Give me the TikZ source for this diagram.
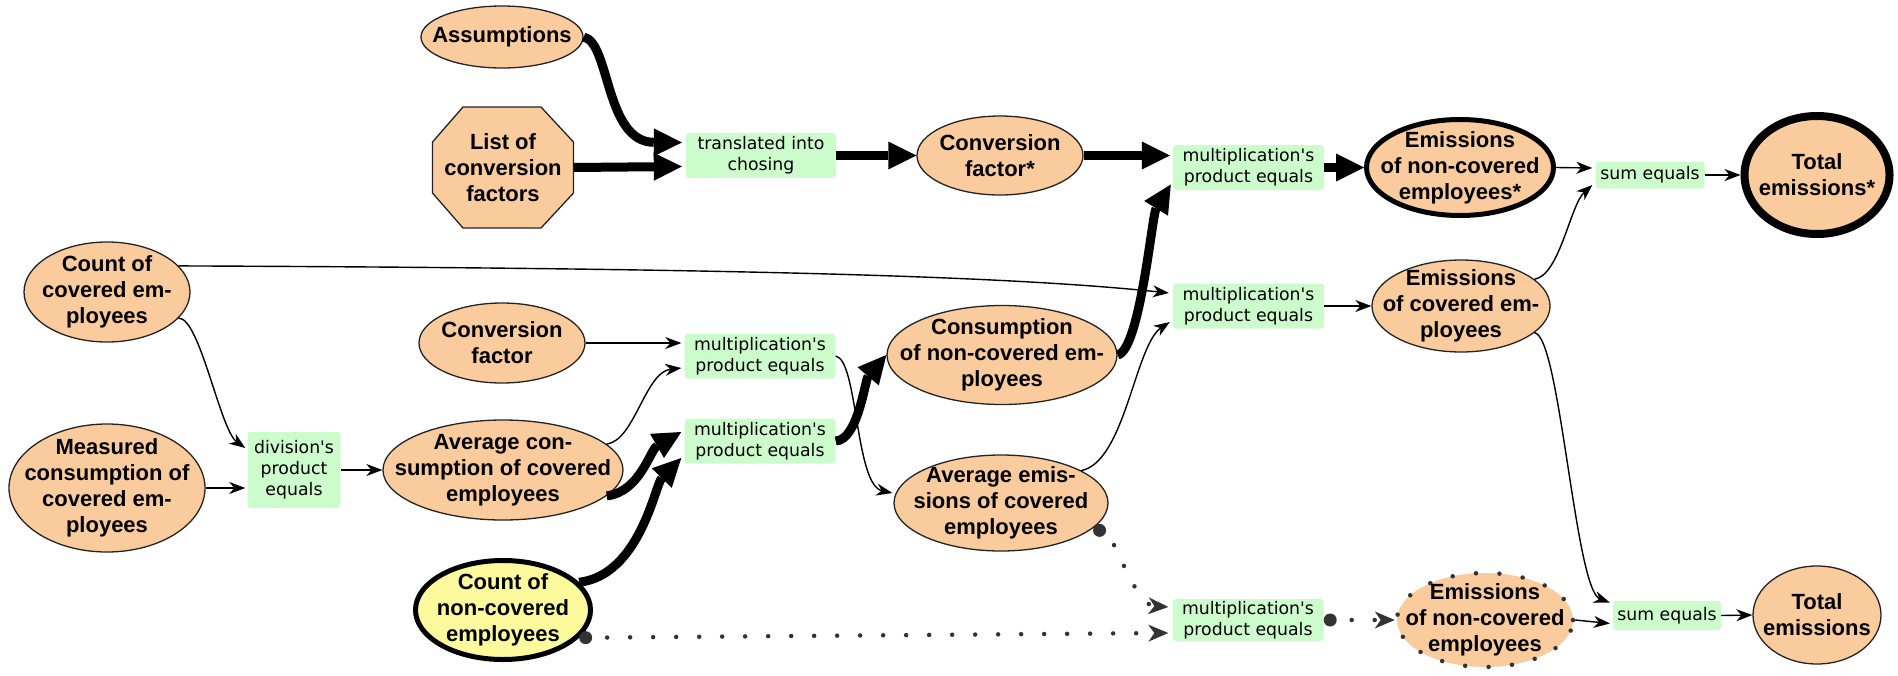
\documentclass[tikz,border=0pt]{standalone}
\usepackage{fontspec}
\setmainfont{Liberation Sans}
\newfontfamily\opfont{DejaVu Sans}
\usetikzlibrary{shapes.geometric, arrows.meta, calc, backgrounds}

\definecolor{peach}{RGB}{250,203,156}
\definecolor{lemon}{RGB}{253,250,158}
\definecolor{mint}{RGB}{204,251,204}
\definecolor{dotgray}{RGB}{51,51,51}
\definecolor{rim}{RGB}{35,35,35}

\tikzset{
  ell/.style={ellipse, draw=rim, line width=1.3pt, fill=peach,
    inner xsep=-80pt, inner ysep=-60pt, align=center,
    font=\bfseries\fontsize{22}{26}\selectfont},
  boldrim/.style={draw=black},
  opbox/.style={rectangle, rounded corners=3pt, fill=mint, inner sep=0pt,
    align=center, font=\opfont\fontsize{17.3}{20.8}\selectfont,
    minimum width=151pt, minimum height=45pt},
  flow/.style={line width=1.4pt, -{Stealth[length=16pt,width=12pt,inset=5pt]}},
  heavy/.style={line width=9pt, -{Triangle[length=28pt,width=28pt,line width=0pt]}},
  dotflow/.style={draw=dotgray, line width=4.5pt, line cap=round,
    dash pattern=on 0pt off 23pt, dash phase=8pt,
    {Circle[length=13pt,line width=0pt]}-{Stealth[length=20pt,width=17pt,inset=6pt,line width=0pt]}},
}

\begin{document}
\begin{tikzpicture}[x=1pt,y=-1pt]
\useasboundingbox (0,0) rectangle (1898,675);

% ---- top row: choosing the conversion factor
\node[ell, minimum width=162pt, minimum height=62pt] (ass) at (502,37) {Assumptions};
\node[rectangle, inner sep=0pt, outer sep=0pt, minimum width=141pt, minimum height=121pt,
      align=center, font=\bfseries\fontsize{22}{26}\selectfont] (list) at (503,167.5)
      {List of\\conversion\\factors};
\begin{scope}[on background layer]
  \draw[line width=1.3pt, draw=rim, fill=peach]
    ($(list.north west)+(30.5,0)$) -- ($(list.north east)+(-32.5,0)$)
    -- ($(list.north east)+(0,35)$) -- ($(list.south east)+(0,-35)$)
    -- ($(list.south east)+(-32.5,0)$) -- ($(list.south west)+(30.5,0)$)
    -- ($(list.south west)+(0,-35)$) -- ($(list.north west)+(0,35)$) -- cycle;
\end{scope}
\node[opbox, minimum width=150pt] (tr) at (761,155.5) {translated into\\chosing};
\node[ell, minimum width=166pt, minimum height=79pt] (cfs) at (1000,155.5) {Conversion\\factor*};
\node[opbox] (m1) at (1248.5,167.5) {multiplication's\\product equals};
\node[ell, boldrim, line width=5pt, minimum width=187pt, minimum height=96pt] (ens) at (1460,167.5)
      {Emissions\\of non-covered\\employees*};
\node[opbox, minimum width=109pt, minimum height=27pt] (s1) at (1650,175) {sum equals};
\node[ell, boldrim, line width=8pt, minimum width=145pt, minimum height=118pt] (tes) at (1817,175)
      {Total\\emissions*};

% ---- covered employees
\node[ell, minimum width=166pt, minimum height=100pt] (ccov) at (107,292) {Count of\\covered em-\\ployees};
\node[ell, minimum width=196pt, minimum height=128pt] (meas) at (107,488)
      {Measured\\consumption of\\covered em-\\ployees};
\node[opbox, minimum width=93pt, minimum height=76pt] (div) at (294,470) {division's\\product\\equals};
\node[ell, minimum width=166pt, minimum height=80pt] (cf) at (502,343) {Conversion\\factor};
\node[ell, minimum width=240pt, minimum height=100pt] (acc) at (503,470)
      {Average con-\\sumption of covered\\employees};
\node[opbox] (m3) at (760,356) {multiplication's\\product equals};
\node[opbox] (m4) at (760,441) {multiplication's\\product equals};
\node[ell, minimum width=230pt, minimum height=99pt] (cons) at (1002,355)
      {Consumption\\of non-covered em-\\ployees};
\node[ell, minimum width=214pt, minimum height=96pt] (aec) at (1001,503)
      {Average emis-\\sions of covered\\employees};
\node[opbox] (m2) at (1248.5,306) {multiplication's\\product equals};
\node[ell, minimum width=178pt, minimum height=92pt] (ec) at (1461,306)
      {Emissions\\of covered em-\\ployees};

% ---- bottom row
\node[ell, boldrim, fill=lemon, line width=5pt, minimum width=175pt, minimum height=99pt] (cnc) at (503,610)
      {Count of\\non-covered\\employees};
\node[opbox, minimum height=42pt] (m5) at (1248,620) {multiplication's\\product equals};
\node[ell, draw=dotgray, line width=4.5pt, line cap=round, dash pattern=on 0pt off 23.5pt,
      minimum width=176pt, minimum height=94pt] (enc) at (1485,620)
      {Emissions\\of non-covered\\employees};
\node[opbox, minimum width=108pt, minimum height=29pt] (s2) at (1667,615.5) {sum equals};
\node[ell, minimum width=128pt, minimum height=98pt] (te) at (1817,615) {Total\\emissions};

% ---- heavy connectors
\draw[heavy] (ass.east) .. controls (610,42) and (605,142) .. ($(tr.west)+(-4,-13)$);
\draw[heavy] (list.east) -- ($(tr.west)+(-4,11)$);
\draw[heavy] (tr.east) -- (cfs.west);
\draw[heavy] (cfs.east) -- ($(m1.west)+(-3,-12)$);
\draw[heavy] (cons.east) .. controls (1140,350) and (1152,215) .. ($(m1.west)+(-2,17)$);
\draw[heavy] (m1.east) -- (ens.west);
\draw[heavy] (acc.-14) .. controls (640,492) and (650,450) .. ($(m4.west)+(-3,-9)$);
\draw[heavy] (cnc.20) .. controls (640,575) and (655,485) .. ($(m4.west)+(-3,17)$);
\draw[heavy] (m4.east) .. controls (858,440) and (865,380) .. (cons.west);

% ---- thin connectors
\draw[flow] (ens.east) -- ($(s1.west)+(-3,-7)$);
\draw[flow] (ec.20) .. controls (1560,275) and (1570,205) .. ($(s1.west)+(-3,10)$);
\draw[flow] (s1.east) -- (tes.west);
\draw[flow] (ccov.20) .. controls (700,268) and (1000,275) .. ($(m2.west)+(-4,-13)$);
\draw[flow] (aec.22) .. controls (1125,462) and (1135,345) .. ($(m2.west)+(-3,16)$);
\draw[flow] (m2.east) -- (ec.west);
\draw[flow] (ec.-20) .. controls (1560,335) and (1575,590) .. ($(s2.west)+(-3,-13)$);
\draw[flow] (ccov.-20) .. controls (200,318) and (220,430) .. ($(div.west)+(-2,-22)$);
\draw[flow] (meas.east) -- ($(div.west)+(-2,18)$);
\draw[flow] (div.east) -- (acc.west);
\draw[flow] (cf.east) -- ($(m3.west)+(-3,-13)$);
\draw[flow] (acc.14) .. controls (635,440) and (645,372) .. ($(m3.west)+(-3,12)$);
\draw[flow] (m3.east) .. controls (858,360) and (855,485) .. ($(aec.west)+(-1,-10)$);
\draw[flow] (enc.east) -- ($(s2.west)+(-3,8)$);
\draw[flow] (s2.east) -- (te.west);

% ---- dotted connectors
\draw[dotflow] (aec.-15) .. controls (1115,537) and (1135,605) .. ($(m5.west)+(-4,-13)$);
\draw[dotflow] (cnc.-20) -- ($(m5.west)+(-4,13)$);
\draw[dotflow] (m5.east) -- (enc.west);
\end{tikzpicture}
\end{document}
